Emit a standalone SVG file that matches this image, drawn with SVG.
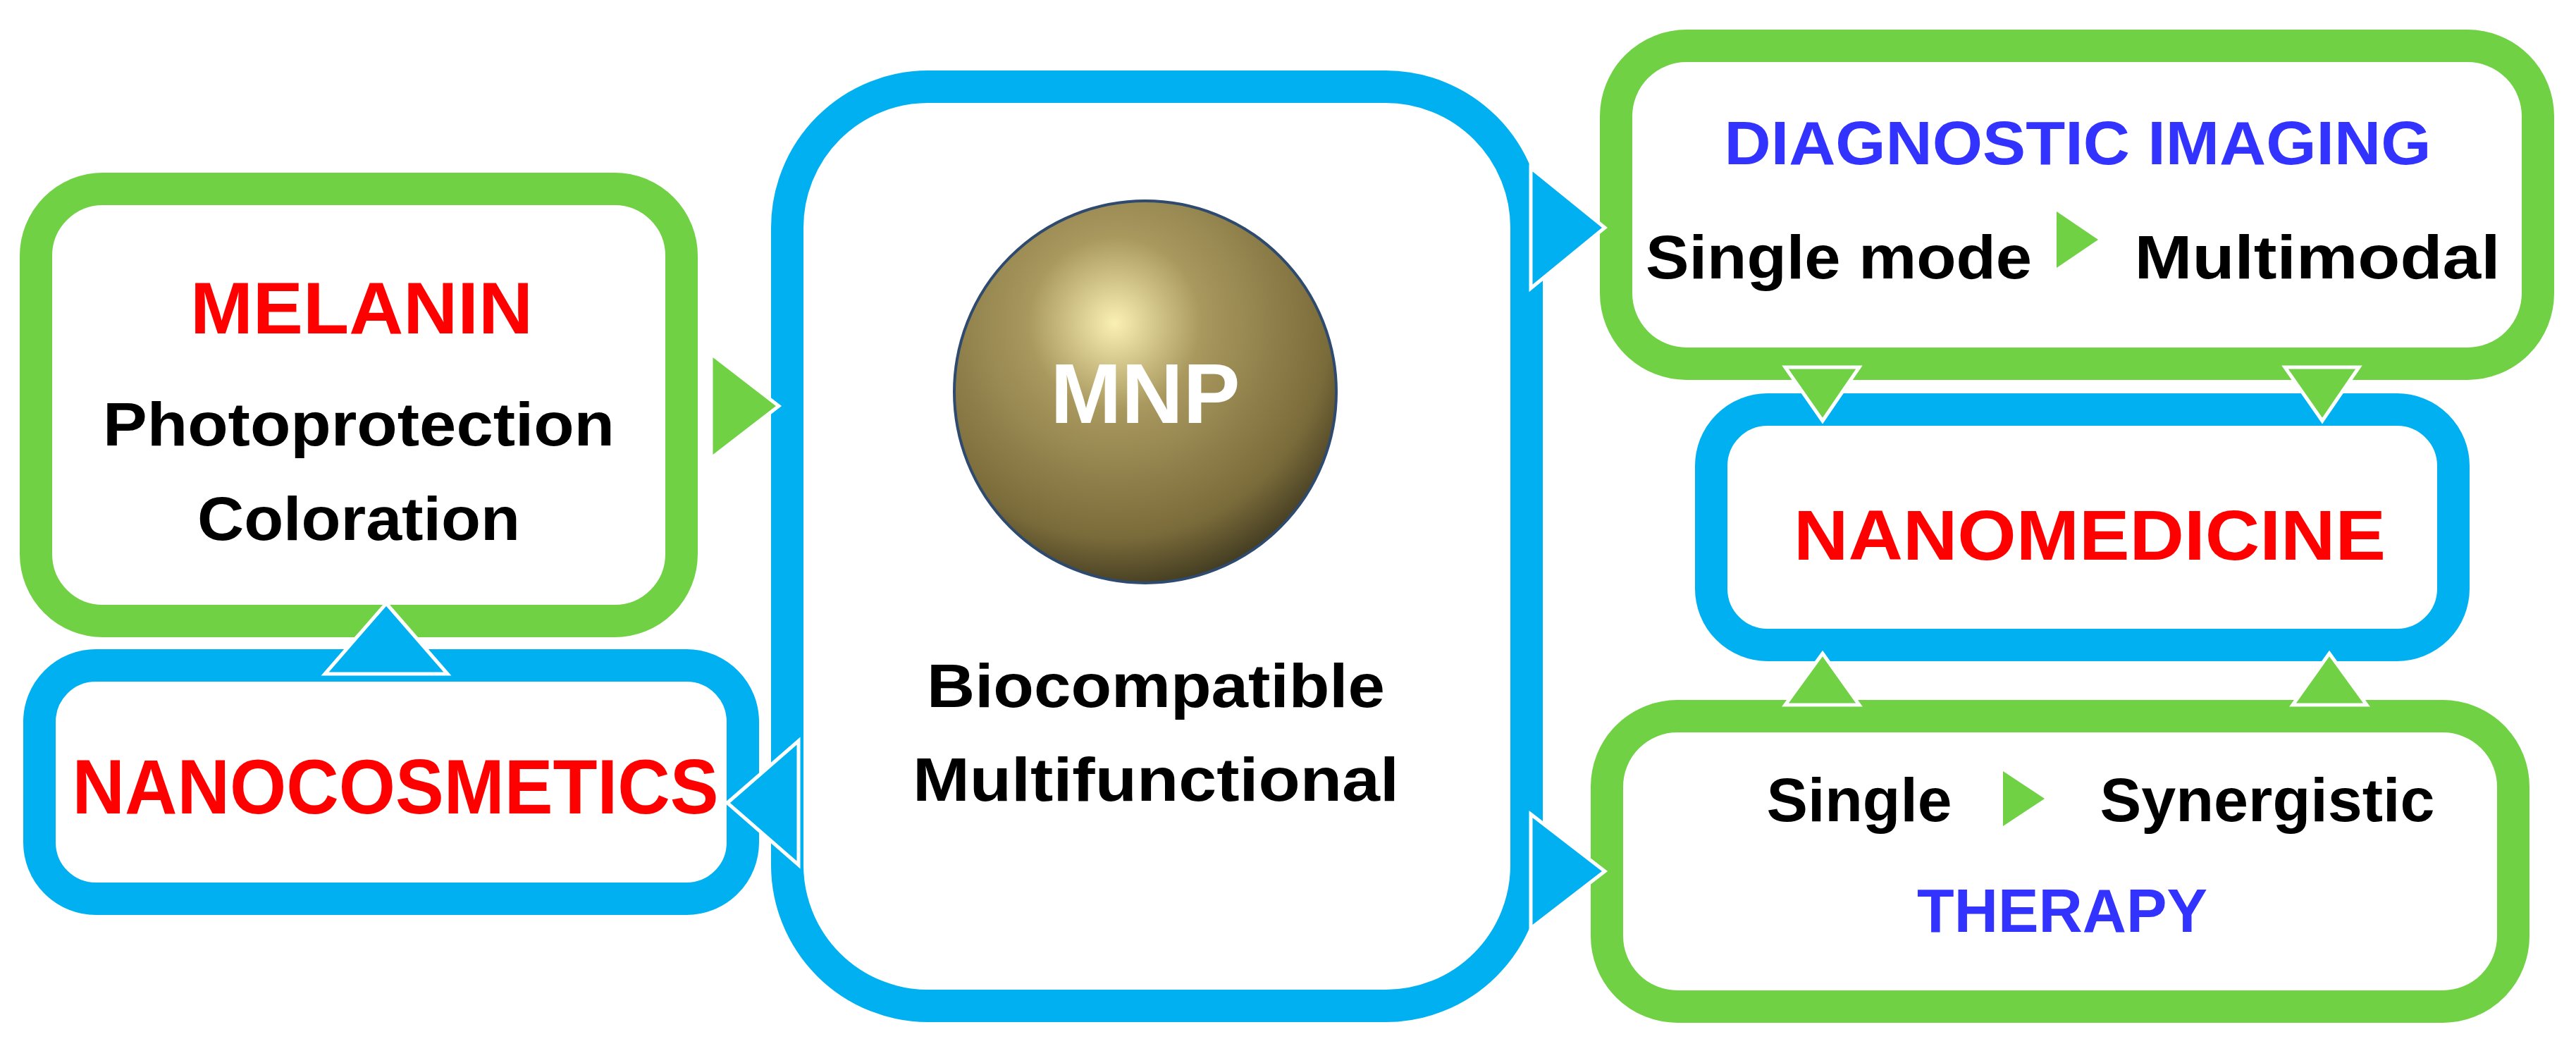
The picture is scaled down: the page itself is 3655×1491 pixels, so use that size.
<svg xmlns="http://www.w3.org/2000/svg" width="3655" height="1491" viewBox="0 0 3655 1491">
<style>
.g{fill:#fff;stroke:#6fd143;stroke-width:46}
.b{fill:#fff;stroke:#00b0f0;stroke-width:46}
.ag{fill:#6fd143;stroke:#fff;stroke-width:5}
.ab{fill:#00b0f0;stroke:#fff;stroke-width:5}
text{font-family:"Liberation Sans",Arial,sans-serif;font-weight:bold;text-anchor:middle}
.k{fill:#000;font-size:88px}
.r{fill:#ff0000}
.u{fill:#3333ff;font-size:88px}
</style>
<defs>
<radialGradient id="sph" cx="0.42" cy="0.32" r="0.75">
<stop offset="0" stop-color="#fbf0b4"/>
<stop offset="0.3" stop-color="#a9995f"/>
<stop offset="0.75" stop-color="#7a6b3a"/>
<stop offset="1" stop-color="#2e2a18"/>
</radialGradient>
</defs>
<rect width="3655" height="1491" fill="#fff"/>
<g id="center">
<rect class="b" x="1117" y="123" width="1049" height="1304" rx="200"/>
<circle cx="1625" cy="556" r="271" fill="url(#sph)" stroke="#2e4a6e" stroke-width="4"/>
<text x="1625" y="600" fill="#fff" font-size="121">MNP</text>
<text class="k" x="1640" y="1003" textLength="650" lengthAdjust="spacingAndGlyphs">Biocompatible</text>
<text class="k" x="1640" y="1136" textLength="690" lengthAdjust="spacingAndGlyphs">Multifunctional</text>
</g>
<g id="melanin">
<rect class="g" x="51" y="268" width="916" height="613" rx="95"/>
<text class="r" x="513" y="473" font-size="103" textLength="486" lengthAdjust="spacingAndGlyphs">MELANIN</text>
<text class="k" x="509" y="632" textLength="726" lengthAdjust="spacingAndGlyphs">Photoprotection</text>
<text class="k" x="509" y="766" textLength="458" lengthAdjust="spacingAndGlyphs">Coloration</text>
</g>
<g id="nanocosmetics">
<rect class="b" x="56" y="944" width="998" height="331" rx="80"/>
<text class="r" x="561" y="1154" font-size="110" textLength="917" lengthAdjust="spacingAndGlyphs">NANOCOSMETICS</text>
</g>
<g id="imaging">
<rect class="g" x="2293" y="65" width="1308" height="451" rx="100"/>
<text class="u" x="2948" y="233" textLength="1003" lengthAdjust="spacingAndGlyphs">DIAGNOSTIC IMAGING</text>
<text class="k" x="2609" y="395" textLength="548" lengthAdjust="spacingAndGlyphs">Single mode</text>
<polygon fill="#6fd143" points="2918,300 2977,340 2918,380"/>
<text class="k" x="3288" y="395" textLength="519" lengthAdjust="spacingAndGlyphs">Multimodal</text>
</g>
<g id="nanomedicine">
<rect class="b" x="2428" y="581" width="1053" height="334" rx="80"/>
<text class="r" x="2965" y="794" font-size="100" textLength="840" lengthAdjust="spacingAndGlyphs">NANOMEDICINE</text>
</g>
<g id="therapy">
<rect class="g" x="2280" y="1016" width="1286" height="412" rx="100"/>
<text class="k" x="2638" y="1165" textLength="263" lengthAdjust="spacingAndGlyphs">Single</text>
<polygon fill="#6fd143" points="2842,1094 2901,1133 2842,1172"/>
<text class="k" x="3217" y="1165" textLength="475" lengthAdjust="spacingAndGlyphs">Synergistic</text>
<text class="u" x="2926" y="1322" textLength="412" lengthAdjust="spacingAndGlyphs">THERAPY</text>
</g>
<g id="connectors">
<polygon class="ag" points="1009,502 1105,576 1009,650"/>
<polygon class="ab" points="548,856 635,956 461,956"/>
<polygon class="ab" points="1032,1139 1133,1051 1133,1227"/>
<polygon class="ab" points="2172,238 2277,323 2172,409"/>
<polygon class="ab" points="2172,1155 2277,1236 2172,1317"/>
<polygon class="ag" points="2533,521 2638,521 2586,597"/>
<polygon class="ag" points="3242,521 3347,521 3295,597"/>
<polygon class="ag" points="2586,927 2638,1000 2533,1000"/>
<polygon class="ag" points="3305,927 3358,1000 3253,1000"/>
</g>
</svg>
